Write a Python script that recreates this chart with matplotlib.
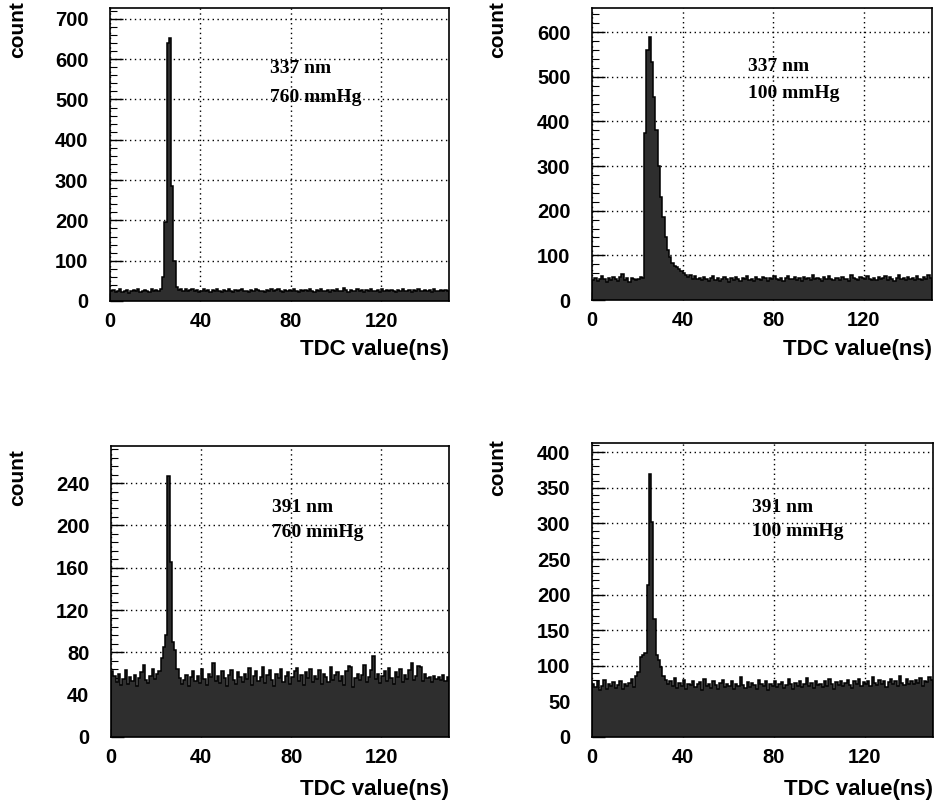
import numpy as np
import matplotlib
matplotlib.use("Agg")
import matplotlib.pyplot as plt
from matplotlib.ticker import MultipleLocator
from matplotlib.font_manager import FontProperties

# TDC bins (ns)
bin_edges = np.arange(0, 151, 1)

# Panel data (counts per 1 ns bin)
counts_337_760 = [
    24, 27, 22, 26, 29, 23, 25, 28, 21, 26,
    27, 24, 30, 22, 25, 28, 26, 23, 29, 24,
    27, 25, 30, 60, 195, 640, 652, 285, 100, 35,
    28, 31, 26, 29, 24, 27, 30, 25, 28, 23,
    26, 29, 24, 27, 22, 28, 25, 30, 26, 23,
    27, 24, 29, 26, 22, 28, 25, 27, 30, 24,
    26, 23, 28, 25, 29, 27, 24, 26, 22, 28,
    25, 29, 24, 27, 30, 26, 23, 28, 25, 27,
    24, 29, 26, 22, 27, 25, 28, 24, 30, 26,
    23, 27, 25, 29, 26, 24, 28, 22, 27, 25,
    29, 26, 24, 32, 27, 23, 28, 25, 26, 29,
    24, 27, 22, 28, 25, 30, 26, 24, 27, 23,
    29, 25, 27, 24, 28, 26, 22, 27, 25, 29,
    26, 24, 28, 23, 27, 25, 30, 26, 24, 28,
    25, 27, 23, 29, 26, 24, 28, 25, 27, 26,
]

counts_337_100 = [
    45, 50, 42, 48, 53, 46, 40, 49, 44, 51,
    47, 43, 52, 58, 45, 49, 41, 50, 46, 44,
    48, 52, 50, 375, 560, 590, 532, 455, 380, 300,
    230, 187, 142, 112, 97, 82, 76, 75, 70, 66,
    60, 56, 52, 55, 48, 53, 46, 50, 44, 51,
    47, 42, 49, 54, 45, 50, 43, 48, 52, 46,
    41, 49, 45, 51, 47, 43, 50, 46, 53, 44,
    48, 42, 51, 47, 45, 52, 49, 43, 50, 46,
    54, 47, 44, 50, 42, 49, 53, 46, 48, 51,
    45, 50, 43, 52, 47, 49, 44, 55, 46, 50,
    48, 42, 51, 46, 53, 47, 44, 50, 49, 45,
    52, 46, 48, 43, 55, 50, 47, 44, 51, 49,
    46, 53, 48, 45, 50, 44, 52, 47, 49, 54,
    45, 51, 48, 43, 50, 55, 46, 49, 44, 52,
    47, 50, 45, 53, 48, 44, 51, 46, 55, 49,
]

counts_391_760 = [
    62, 58, 52, 60, 49, 55, 63, 50, 57, 53,
    59, 48, 56, 61, 68, 54, 51, 58, 64, 55,
    60, 62, 75, 85, 96, 247, 165, 90, 82, 64,
    56, 50, 54, 59, 48, 57, 62, 53, 58, 51,
    64, 55, 49, 60, 57, 70, 53, 58, 51, 62,
    56, 48, 59, 63, 54, 50, 61, 57, 52, 60,
    55, 65, 49, 58, 62, 53, 57, 66, 51, 59,
    63, 54, 48, 60, 56, 64, 52, 58, 61, 50,
    57, 62, 65, 53, 59, 49, 61, 56, 64, 52,
    58, 55, 63, 50, 60, 57, 52, 66, 54, 59,
    61, 53, 58, 49, 62, 67, 66, 47, 56, 60,
    54, 59, 68, 52, 57, 63, 77, 55, 60, 51,
    58, 62, 53, 65, 56, 50, 61, 57, 64, 52,
    59, 55, 63, 70, 54, 58, 67, 66, 53, 60,
    56, 57, 52, 58, 55, 57, 54, 59, 53, 57,
]

counts_391_100 = [
    74, 70, 78, 66, 72, 80, 68, 75, 71, 77,
    69, 73, 79, 67, 74, 71, 76, 82, 70, 85,
    92, 112, 115, 118, 213, 369, 302, 166, 115, 108,
    99, 85, 80, 74, 78, 71, 83, 69, 76, 72,
    80, 68, 75, 73, 79, 70, 74, 77, 66, 82,
    71, 75, 69, 78, 73, 68, 76, 80, 70, 74,
    72, 79, 67, 75, 71, 84, 73, 69, 77, 70,
    76, 73, 68, 80, 74, 71, 78, 66, 75, 72,
    79, 70, 74, 77, 69, 73, 81, 75, 68, 76,
    72, 78, 70, 74, 83, 71, 76, 69, 79, 73,
    75, 70, 78, 72, 81, 74, 68, 77, 73, 79,
    71, 76, 80, 73, 69, 78, 74, 82, 72, 77,
    75, 79, 71, 84, 76, 73, 80, 74, 78, 70,
    77, 81, 74, 79, 72, 85, 76, 73, 82, 75,
    78, 74, 80, 76, 83, 72, 79, 77, 84, 80,
]

labels = [("337 nm", "760 mmHg"), ("337 nm", "100 mmHg"),
          ("391 nm", "760 mmHg"), ("391 nm", "100 mmHg")]
x_ticks = [0, 40, 80, 120]

W, H = 936, 802
fig = plt.figure(figsize=(W / 100, H / 100), dpi=100)

def rect(l, t, r, b):
    return [l / W, 1 - b / H, (r - l) / W, (b - t) / H]

panels = [
    dict(data=counts_337_760, rect=rect(110, 8, 449, 301), ymax=727, major=100, minor=20,
         ymaxtick=700, txt=(71, 576, 506), count_xy=(18, 30), xl_y=350),
    dict(data=counts_337_100, rect=rect(592, 8, 932, 300), ymax=654, major=100, minor=20,
         ymaxtick=600, txt=(69, 524, 463), count_xy=(498, 30), xl_y=350),
    dict(data=counts_391_760, rect=rect(111, 446, 449, 737), ymax=275, major=40, minor=8,
         ymaxtick=240, txt=(71.5, 217, 193), count_xy=(18, 478), xl_y=790),
    dict(data=counts_391_100, rect=rect(592, 443, 933, 737), ymax=413, major=50, minor=10,
         ymaxtick=400, txt=(70.4, 323, 289), count_xy=(498, 468), xl_y=790),
]

tick_font = dict(family="Liberation Sans", weight="bold", size=14.5)

for p, (l1, l2) in zip(panels, labels):
    ax = fig.add_axes(p["rect"])
    ax.stairs(p["data"], bin_edges, fill=True, color="#2e2e2e", zorder=2)
    ax.stairs(p["data"], bin_edges, fill=False, color="black", linewidth=1.1, zorder=3)
    ax.set_xlim(0, 150)
    ax.set_ylim(0, p["ymax"])
    ax.set_xticks(x_ticks)
    ax.set_yticks(np.arange(0, p["ymaxtick"] + 1, p["major"]))
    ax.yaxis.set_minor_locator(MultipleLocator(p["minor"]))
    ax.tick_params(axis="y", which="major", direction="in", length=9, width=1, pad=15.5)
    ax.tick_params(axis="y", which="minor", direction="in", length=5, width=0.8)
    ax.tick_params(axis="x", which="major", direction="in", length=6, width=1, pad=8)
    for lab in ax.get_xticklabels() + ax.get_yticklabels():
        lab.set_fontproperties(FontProperties(**tick_font))
    ax.grid(True, which="major", color="black", linestyle=(0, (1, 2.5)), linewidth=1.0, zorder=1)
    ax.set_axisbelow(True)
    for s in ax.spines.values():
        s.set_linewidth(1.2)
        s.set_zorder(4)
    tx, ty1, ty2 = p["txt"]
    ax.text(tx, ty1, l1, family="Liberation Serif", weight="bold", size=14,
            va="center", ha="left", zorder=5)
    ax.text(tx, ty2, l2, family="Liberation Serif", weight="bold", size=14,
            va="center", ha="left", zorder=5)
    r = p["rect"]
    fig.text(r[0] + r[2], 1 - p["xl_y"] / H, "TDC value(ns)", family="Liberation Sans",
             weight="bold", size=16, ha="right", va="center")
    cx, cy = p["count_xy"]
    fig.text(cx / W, 1 - cy / H, "count", family="Liberation Sans", weight="bold",
             size=15, rotation=90, ha="center", va="center")

fig.savefig("out.png", dpi=100)
